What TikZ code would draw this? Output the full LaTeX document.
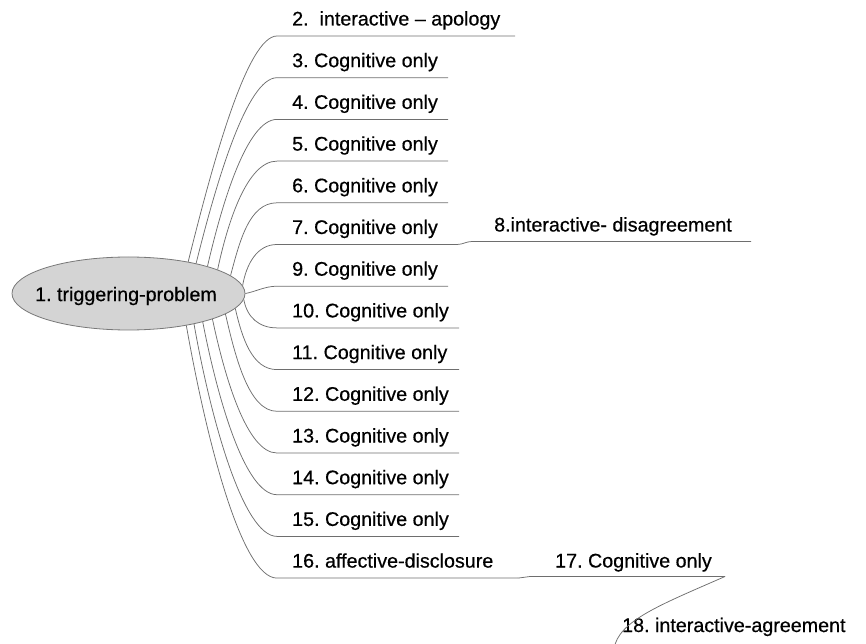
\documentclass[tikz,border=0pt]{standalone}
\usepackage{fontspec}
\setmainfont{Liberation Sans}[FakeBold=0.5]
\usetikzlibrary{shapes.geometric}
\definecolor{linegray}{RGB}{110,110,110}
\definecolor{ellgray}{RGB}{120,120,120}
\definecolor{ellfill}{RGB}{212,212,212}
\frenchspacing
\begin{document}
\begin{tikzpicture}[x=1pt,y=1pt,
  lbl/.style={anchor=base west, inner sep=0pt, font=\fontsize{19.7}{24}\selectfont},
  branch/.style={draw=linegray, line width=0.75pt},
  rootbox/.style={ellipse, draw=ellgray, fill=ellfill, minimum width=233pt, minimum height=73pt, inner sep=0pt, line width=0.8pt}]
\useasboundingbox (0,0) rectangle (866,643);
\clip (0,0) rectangle (866,643);

% root
\node[rootbox] (root) at (128.5,349.5) {};
\node[inner sep=0pt, font=\fontsize{19.7}{24}\selectfont] (rootlbl) at (126,347) {1. triggering-problem};

% underline start / end coordinates
\coordinate (s2)  at (277,607.0); \coordinate (e2)  at (515,607.0);
\coordinate (s3)  at (277,565.3); \coordinate (e3)  at (448,565.3);
\coordinate (s4)  at (277,523.6); \coordinate (e4)  at (448,523.6);
\coordinate (s5)  at (277,481.9); \coordinate (e5)  at (448,481.9);
\coordinate (s6)  at (277,440.2); \coordinate (e6)  at (448,440.2);
\coordinate (s7)  at (277,398.5); \coordinate (e7)  at (457,398.5);
\coordinate (s9)  at (277,356.8); \coordinate (e9)  at (448,356.8);
\coordinate (s10) at (277,315.1); \coordinate (e10) at (459,315.1);
\coordinate (s11) at (277,273.4); \coordinate (e11) at (459,273.4);
\coordinate (s12) at (277,231.7); \coordinate (e12) at (459,231.7);
\coordinate (s13) at (277,190.0); \coordinate (e13) at (459,190.0);
\coordinate (s14) at (277,148.3); \coordinate (e14) at (459,148.3);
\coordinate (s15) at (277,106.6); \coordinate (e15) at (459,106.6);
\coordinate (s16) at (277,64.9);  \coordinate (e16) at (518,64.9);
\coordinate (s8)  at (472,401.5); \coordinate (e8)  at (751,401.5);
\coordinate (s17) at (530,66.5);  \coordinate (e17) at (725,66.5);
\coordinate (s18) at (614,-6);

% labels
\node[lbl] (n2)  at (292,617.5) {2.\ \ interactive – apology};
\node[lbl] (n3)  at (292,575.8) {3. Cognitive only};
\node[lbl] (n4)  at (292,534.1) {4. Cognitive only};
\node[lbl] (n5)  at (292,492.4) {5. Cognitive only};
\node[lbl] (n6)  at (292,450.7) {6. Cognitive only};
\node[lbl] (n7)  at (292,409.0) {7. Cognitive only};
\node[lbl] (n9)  at (292,367.3) {9. Cognitive only};
\node[lbl] (n10) at (292,325.6) {10. Cognitive only};
\node[lbl] (n11) at (292,283.9) {11. Cognitive only};
\node[lbl] (n12) at (292,242.2) {12. Cognitive only};
\node[lbl] (n13) at (292,200.5) {13. Cognitive only};
\node[lbl] (n14) at (292,158.8) {14. Cognitive only};
\node[lbl] (n15) at (292,117.1) {15. Cognitive only};
\node[lbl] (n16) at (292,75.4)  {16. affective-disclosure};
\node[lbl] (n8)  at (494,411.5) {8.interactive- disagreement};
\node[lbl] (n17) at (555,75.5)  {17. Cognitive only};
\node[lbl] (n18) at (622,11)    {18. interactive-agreement};

% branches from root
\draw[branch] (root.28.6)  to[out=76,in=180,out distance=100,in distance=30] (s2)  -- (e2);
\draw[branch] (root.24.0)  to[out=76,in=180,out distance=85,in distance=30]  (s3)  -- (e3);
\draw[branch] (root.19.6)  to[out=77,in=180,out distance=65,in distance=30]  (s4)  -- (e4);
\draw[branch] (root.15.2)  to[out=78,in=180,out distance=48,in distance=30]  (s5)  -- (e5);
\draw[branch] (root.10.2)  to[out=75,in=180,out distance=35,in distance=28]  (s6)  -- (e6);
\draw[branch] (root.4.5)   to[out=80,in=180,out distance=22,in distance=20]  (s7)  -- (e7);
\draw[branch] (root.0)     to[out=10,in=180,out distance=10,in distance=12]  (s9)  -- (e9);
\draw[branch] (root.-3.5)  to[out=-80,in=180,out distance=18,in distance=18] (s10) -- (e10);
\draw[branch] (root.-8.6)  to[out=-77,in=180,out distance=30,in distance=25] (s11) -- (e11);
\draw[branch] (root.-12.9) to[out=-77,in=180,out distance=45,in distance=28] (s12) -- (e12);
\draw[branch] (root.-17.1) to[out=-78,in=180,out distance=60,in distance=30] (s13) -- (e13);
\draw[branch] (root.-21.3) to[out=-79,in=180,out distance=78,in distance=32] (s14) -- (e14);
\draw[branch] (root.-25.5) to[out=-80,in=180,out distance=95,in distance=34] (s15) -- (e15);
\draw[branch] (root.-29.7) to[out=-80,in=180,out distance=112,in distance=36] (s16) -- (e16);

% second-level branches
\draw[branch] (e7) to[out=0,in=180,out distance=6,in distance=6] (s8) -- (e8);
\draw[branch] (e16) to[out=0,in=180,out distance=6,in distance=6] (s17) -- (e17);
\draw[branch] (e17) .. controls (660,38) and (618,22) .. (s18);
\end{tikzpicture}
\end{document}
